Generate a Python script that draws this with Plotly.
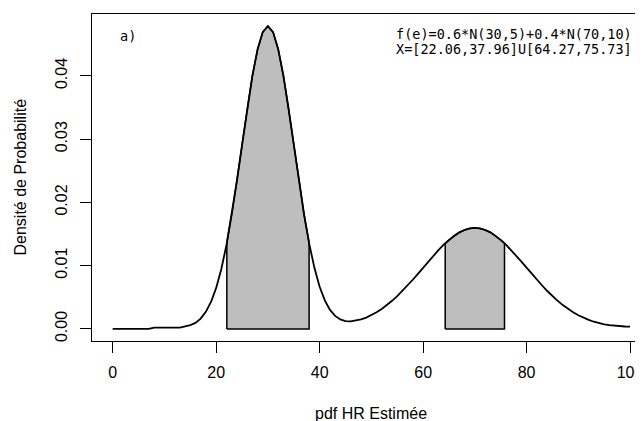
import numpy as np
import plotly.graph_objects as go

# Estimated density curve (x = 0..100, step 1)
x_vals = list(range(0, 101))
density = [
    0.0000, 0.0000, 0.0000, 0.0000, 0.0000, 0.0000, 0.0000, 0.0000, 0.0002, 0.0002,
    0.0002, 0.0002, 0.0002, 0.0002, 0.0004, 0.0006, 0.00095, 0.00163, 0.00269, 0.00426,
    0.00648, 0.00947, 0.01331, 0.01797, 0.02330, 0.02904, 0.03476, 0.03999, 0.04419, 0.04693,
    0.04787, 0.04693, 0.04419, 0.03999, 0.03476, 0.02907, 0.02335, 0.01804, 0.01341, 0.00961,
    0.00666, 0.00450, 0.00300, 0.00205, 0.00149, 0.00123, 0.00118, 0.00128, 0.00149, 0.00179,
    0.00218, 0.00263, 0.00316, 0.00376, 0.00444, 0.00518, 0.00599, 0.00686, 0.00777, 0.00871,
    0.00968, 0.01064, 0.01159, 0.01249, 0.01333, 0.01408, 0.01473, 0.01526, 0.01564, 0.01588,
    0.01596, 0.01588, 0.01564, 0.01526, 0.01473, 0.01408, 0.01333, 0.01249, 0.01159, 0.01064,
    0.00968, 0.00871, 0.00777, 0.00686, 0.00599, 0.00518, 0.00444, 0.00376, 0.00316, 0.00263,
    0.00216, 0.00176, 0.00142, 0.00113, 0.00090, 0.00072, 0.00058, 0.00048, 0.00042, 0.00038,
    0.00036,
]

# Highlighted intervals
intervals = [(22.06, 37.96), (64.27, 75.73)]

x_ticks = [0, 20, 40, 60, 80, 100]
y_ticks = [0.00, 0.01, 0.02, 0.03, 0.04]

title_x = "pdf HR Estimée"
title_y = "Densité de Probabilité"
panel_label = "a)"
formula_text = "f(e)=0.6*N(30,5)+0.4*N(70,10)"
interval_text = "X=[22.06,37.96]U[64.27,75.73]"

xa = np.array(x_vals, dtype=float)
ya = np.array(density, dtype=float)

fig = go.Figure()

for a, b in intervals:
    inside = (xa > a) & (xa < b)
    fa = float(np.interp(a, xa, ya))
    fb = float(np.interp(b, xa, ya))
    px = [a, a] + list(xa[inside]) + [b, b, a]
    py = [0, fa] + list(ya[inside]) + [fb, 0, 0]
    fig.add_trace(go.Scatter(
        x=px, y=py, mode="lines", fill="toself",
        fillcolor="#BEBEBE", line=dict(color="black", width=1.5),
        hoverinfo="skip", showlegend=False,
    ))

fig.add_trace(go.Scatter(
    x=x_vals, y=density, mode="lines",
    line=dict(color="black", width=1.8),
    showlegend=False,
))

font_main = "Liberation Sans, Arial, sans-serif"
font_note = "DejaVu Sans Mono, monospace"

# The page body has an 8px margin, so the figure is 8px smaller than the window.
fig.update_layout(
    width=635, height=413,
    margin=dict(l=84, r=0, t=6, b=80),
    paper_bgcolor="white", plot_bgcolor="white",
    font=dict(family=font_main, size=17, color="black"),
    xaxis=dict(
        range=[-4, 102.5], tickvals=x_ticks, ticktext=[str(v) for v in x_ticks],
        showline=True, linecolor="black", linewidth=1.3, mirror=True,
        ticks="outside", ticklen=11, tickwidth=1.3, tickcolor="black",
        showgrid=False, zeroline=False, ticklabelstandoff=6,
        ticklabeloverflow="allow",
        tickfont=dict(size=16),
    ),
    yaxis=dict(
        range=[-0.001915, 0.049788], tickvals=y_ticks,
        ticktext=["%.2f" % v for v in y_ticks], tickangle=-90,
        showline=True, linecolor="black", linewidth=1.3, mirror=False,
        ticks="outside", ticklen=11, tickwidth=1.3, tickcolor="black",
        showgrid=False, zeroline=False, ticklabelstandoff=6,
        tickfont=dict(size=16),
    ),
    annotations=[
        dict(text=title_x, x=50, xref="x", y=0, yref="paper", yshift=-72,
             showarrow=False, xanchor="center", yanchor="middle",
             font=dict(size=16, family=font_main)),
        dict(text=title_y, x=0, xref="paper", xshift=-72, y=0.5, yref="paper",
             showarrow=False, textangle=-90, xanchor="center", yanchor="middle",
             font=dict(size=16, family=font_main)),
        dict(text=panel_label, x=2.96, y=0.04631, xref="x", yref="y",
             showarrow=False, xanchor="center", yanchor="middle",
             font=dict(size=13.5, family=font_note)),
        dict(text=formula_text, x=54.3, y=0.04655, xref="x", yref="y",
             showarrow=False, xanchor="left", yanchor="middle",
             font=dict(size=13.5, family=font_note)),
        dict(text=interval_text, x=54.3, y=0.04420, xref="x", yref="y",
             showarrow=False, xanchor="left", yanchor="middle",
             font=dict(size=13.5, family=font_note)),
    ],
)

fig.write_html("out.html")
